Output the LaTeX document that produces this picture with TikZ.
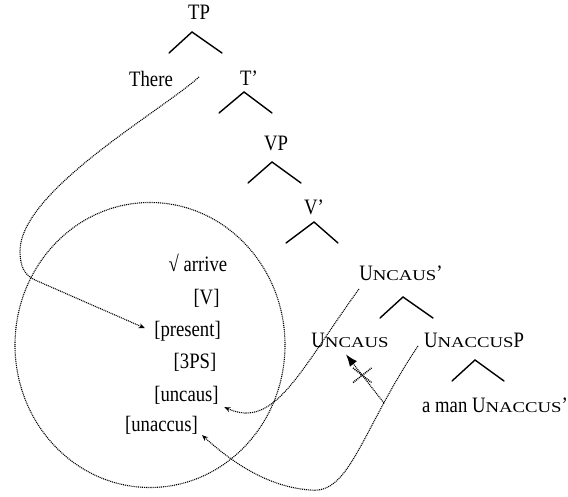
\documentclass[tikz,border=0pt]{standalone}
\usepackage{fontspec}
\usepackage{graphicx}
\setmainfont{Liberation Serif}
\usetikzlibrary{arrows.meta,shapes.geometric,shapes.misc,calc}

% condensed text, and hand-made small capitals
\newcommand\tx[1]{\scalebox{0.85}[1]{#1}}
\newcommand\smc[1]{{\fontsize{15}{15}\selectfont\scalebox{1.25}[1]{#1}}}

\tikzset{
  lbl/.style={font=\fontsize{22}{24}\selectfont, inner sep=1pt, anchor=base},
  branch/.style={line width=1.4pt, line cap=round},
  trace/.style={line width=1.1pt, dash pattern=on 1pt off 0.9pt},
  smalltip/.style={-{Stealth[length=6pt,width=5pt]}},
  blocked/.style={trace, -{Latex[length=12pt,width=9pt]}},
  xmark/.style={draw, cross out, line width=1.5pt, minimum width=17pt, minimum height=13pt, inner sep=0pt},
  pics/fork/.style 2 args={code={\draw[branch] (#1,21) -- (0,0) -- (#2,21);}}
}

\begin{document}
\begin{tikzpicture}[x=1pt, y=-1pt]
\useasboundingbox (0,0) rectangle (568,497);

% the tree
\node[lbl] (TP)    at (199,20)  {\tx{TP}};
\pic at (192,32) {fork={-23}{30}};
\node[lbl] (there) at (151,87)  {\tx{There}};
\node[lbl] (Tbar)  at (249,86)  {\tx{T’}};
\pic at (244,92) {fork={-25}{28}};
\node[lbl] (VP)    at (276,151) {\tx{VP}};
\pic at (272,162) {fork={-24}{29}};
\node[lbl] (Vbar)  at (314,215) {\tx{V’}};
\pic at (314,222) {fork={-28}{24}};
\node[lbl] (uncbar) at (401,281) {\tx{U}\smc{NCAUS}\tx{’}};
\pic at (403,297) {fork={-23}{30}};
\node[lbl] (unc)   at (350,347) {\tx{U}\smc{NCAUS}};
\node[lbl] (unaccP) at (474,347) {\tx{U}\smc{NACCUS}\tx{P}};
\pic at (475,360) {fork={-23}{29}};
\node[lbl] (subj)  at (495,412) {\tx{a man U}\smc{NACCUS}\tx{’}};

% the feature bundle
\node[ellipse, trace, draw, minimum width=270pt, minimum height=285pt, inner sep=0pt] (bundle) at (150,345) {};
\node[lbl] (root)     at (198,272)   {\tx{√ arrive}};
\node[lbl] (cat)      at (206.5,305) {\tx{[V]}};
\node[lbl] (present)  at (187.5,337) {\tx{[present]}};
\node[lbl] (agr)      at (195,368)   {\tx{[3PS]}};
\node[lbl] (uncaus)   at (186.5,401) {\tx{[uncaus]}};
\node[lbl] (unaccus)  at (161.5,431) {\tx{[unaccus]}};

% traces
\coordinate (thereTrace)   at (199,77);
\coordinate (uncausTrace)  at (359,289);
\coordinate (unaccusTrace) at (418,346);

\draw[trace, smalltip, shorten >=9pt] (thereTrace)
  .. controls (160,112) and (22,190) .. (20,250)
  .. controls (20,268) and (25,275) .. (35,280)
  -- (present.west);

\draw[trace, smalltip, shorten >=5pt] (uncausTrace)
  .. controls (300,370) and (275,430) .. (uncaus.south east);

\draw[trace, smalltip] (unaccusTrace)
  .. controls (361,431) and (350,495) .. (310,490) coordinate[pos=0.24] (junction)
  .. controls (270,487) and (235,465) .. ($(unaccus.south east)+(3,0)$);

\draw[blocked] (junction) -- ($(unc.south)+(-4,6)$) node[pos=0.57, xmark] (block) {};
\end{tikzpicture}
\end{document}
